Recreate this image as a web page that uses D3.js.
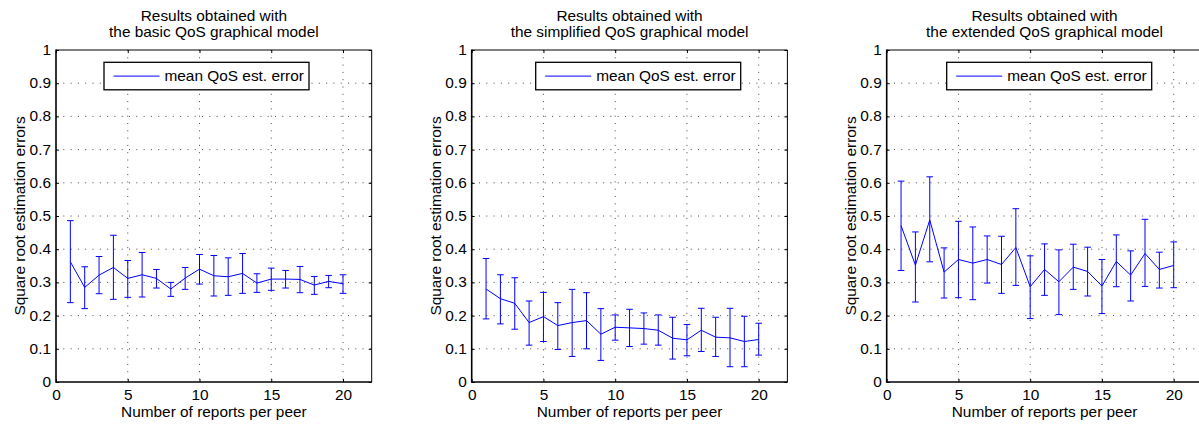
<!DOCTYPE html>
<html>
<head>
<meta charset="utf-8">
<script src="https://cdn.jsdelivr.net/npm/d3@7"></script>
<style>
  html, body { margin: 0; padding: 0; background: #fff; }
  svg { display: block; font-family: "Liberation Sans", Arial, Helvetica, sans-serif; }
</style>
</head>
<body>
<svg id="chart" width="1199" height="429"></svg>
<script>
// ---------------- data ----------------
const reports = [1, 2, 3, 4, 5, 6, 7, 8, 9, 10, 11, 12, 13, 14, 15, 16, 17, 18, 19, 20];

const basicMean  = [0.362, 0.285, 0.322, 0.345, 0.312, 0.323, 0.312, 0.280, 0.313, 0.340, 0.320, 0.317, 0.327, 0.298, 0.310, 0.310, 0.309, 0.292, 0.303, 0.296];
const basicUpper = [0.486, 0.347, 0.378, 0.442, 0.366, 0.390, 0.339, 0.300, 0.345, 0.384, 0.381, 0.374, 0.387, 0.326, 0.343, 0.336, 0.348, 0.318, 0.321, 0.323];
const basicLower = [0.239, 0.221, 0.266, 0.249, 0.255, 0.256, 0.283, 0.258, 0.279, 0.295, 0.259, 0.261, 0.267, 0.270, 0.276, 0.283, 0.269, 0.264, 0.284, 0.267];

const simplifiedMean  = [0.280, 0.251, 0.237, 0.179, 0.197, 0.170, 0.179, 0.185, 0.144, 0.165, 0.163, 0.161, 0.156, 0.132, 0.127, 0.156, 0.135, 0.133, 0.122, 0.128];
const simplifiedUpper = [0.372, 0.323, 0.314, 0.244, 0.270, 0.239, 0.279, 0.269, 0.221, 0.202, 0.219, 0.208, 0.202, 0.195, 0.173, 0.222, 0.195, 0.222, 0.198, 0.177];
const simplifiedLower = [0.190, 0.175, 0.159, 0.111, 0.122, 0.098, 0.077, 0.100, 0.065, 0.126, 0.107, 0.114, 0.111, 0.069, 0.079, 0.092, 0.077, 0.046, 0.046, 0.081];

const extendedMean  = [0.471, 0.352, 0.488, 0.331, 0.369, 0.358, 0.369, 0.354, 0.405, 0.287, 0.339, 0.302, 0.346, 0.333, 0.289, 0.363, 0.322, 0.387, 0.339, 0.351];
const extendedUpper = [0.605, 0.452, 0.618, 0.404, 0.484, 0.467, 0.440, 0.439, 0.522, 0.380, 0.416, 0.398, 0.415, 0.406, 0.369, 0.443, 0.395, 0.490, 0.391, 0.422];
const extendedLower = [0.336, 0.241, 0.362, 0.253, 0.254, 0.248, 0.298, 0.267, 0.291, 0.191, 0.261, 0.203, 0.279, 0.259, 0.206, 0.287, 0.244, 0.288, 0.283, 0.284];

const titles = [
  ["Results obtained with", "the basic QoS graphical model"],
  ["Results obtained with", "the simplified QoS graphical model"],
  ["Results obtained with", "the extended QoS graphical model"]
];
const xTicks = [0, 5, 10, 15, 20];
const yTicks = [0, 0.1, 0.2, 0.3, 0.4, 0.5, 0.6, 0.7, 0.8, 0.9, 1];
const yTickLabels = ["0", "0.1", "0.2", "0.3", "0.4", "0.5", "0.6", "0.7", "0.8", "0.9", "1"];
const xLabel = "Number of reports per peer";
const yLabel = "Square root estimation errors";
const legendLabel = "mean QoS est. error";

// ---------------- layout ----------------
const panelLeft = [56, 471.7, 886.7];
const legendOffset = [48, 64, 60];
const plotW = 315.7, plotTop = 50, plotBottom = 382;
const FS = 14, SX = 1.1;   // font size and horizontal stretch of the text
const blue = "#0000ff";

const panels = [
  { mean: basicMean, upper: basicUpper, lower: basicLower },
  { mean: simplifiedMean, upper: simplifiedUpper, lower: simplifiedLower },
  { mean: extendedMean, upper: extendedUpper, lower: extendedLower }
];

const svg = d3.select("#chart");

function label(g, x, y, txt, anchor, rot) {
  const t = g.append("g").attr("transform", `translate(${x},${y})` + (rot ? ` rotate(${rot})` : ""));
  t.append("text")
    .attr("transform", `scale(${SX},1)`)
    .attr("text-anchor", anchor)
    .attr("font-size", FS)
    .attr("fill", "#000")
    .text(txt);
  return t;
}

panels.forEach((p, i) => {
  const left = panelLeft[i];
  const x = d3.scaleLinear().domain([0, 22]).range([left, left + plotW]);
  const y = d3.scaleLinear().domain([0, 1]).range([plotBottom, plotTop]);
  const g = svg.append("g");
  const cx = left + plotW / 2;

  // background
  g.append("rect").attr("x", left).attr("y", plotTop).attr("width", plotW).attr("height", plotBottom - plotTop).attr("fill", "#fff");

  // grid (dotted)
  g.append("g").selectAll("line").data(xTicks.filter(d => d > 0)).join("line")
    .attr("x1", d => x(d)).attr("x2", d => x(d))
    .attr("y1", plotTop).attr("y2", plotBottom)
    .attr("stroke", "#333").attr("stroke-width", 0.9).attr("stroke-dasharray", "1,6.3");
  g.append("g").selectAll("line").data(yTicks.filter(d => d > 0 && d < 1)).join("line")
    .attr("x1", left).attr("x2", left + plotW)
    .attr("y1", d => y(d)).attr("y2", d => y(d))
    .attr("stroke", "#333").attr("stroke-width", 0.9).attr("stroke-dasharray", "1,6.3");

  // axes
  const ax = g.append("g").attr("transform", `translate(0,${plotBottom})`)
    .call(d3.axisBottom(x).tickValues(xTicks).tickSizeInner(-3).tickSizeOuter(0).tickPadding(8.5));
  const axTop = g.append("g").attr("transform", `translate(0,${plotTop})`)
    .call(d3.axisTop(x).tickValues(xTicks).tickSizeInner(-3).tickSizeOuter(0).tickFormat(""));
  const ay = g.append("g").attr("transform", `translate(${left},0)`)
    .call(d3.axisLeft(y).tickValues(yTicks).tickFormat((d, k) => yTickLabels[k]).tickSizeInner(-3).tickSizeOuter(0).tickPadding(5));
  const ayR = g.append("g").attr("transform", `translate(${left + plotW},0)`)
    .call(d3.axisRight(y).tickValues(yTicks).tickSizeInner(-3).tickSizeOuter(0).tickFormat(""));
  [ax, axTop, ay, ayR].forEach(a => {
    a.select(".domain").remove();
    a.selectAll(".tick line").attr("stroke", "#000");
  });
  ax.selectAll("text").attr("font-size", FS).attr("font-family", null).attr("transform", `scale(${SX},1)`);
  ay.selectAll("text").attr("font-size", FS).attr("font-family", null)
    .attr("x", -5 / SX).attr("transform", `scale(${SX},1)`);

  // frame
  g.append("line").attr("x1", left).attr("x2", left + plotW).attr("y1", plotTop).attr("y2", plotTop).attr("stroke", "#000").attr("stroke-width", 1);
  g.append("line").attr("x1", left + plotW).attr("x2", left + plotW).attr("y1", plotTop).attr("y2", plotBottom).attr("stroke", "#000").attr("stroke-width", 1);
  g.append("line").attr("x1", left).attr("x2", left + plotW).attr("y1", plotBottom).attr("y2", plotBottom).attr("stroke", "#000").attr("stroke-width", 1.6);
  g.append("line").attr("x1", left).attr("x2", left).attr("y1", plotTop - 0.5).attr("y2", plotBottom + 0.8).attr("stroke", "#000").attr("stroke-width", 1.6);

  // error bars
  const eb = g.append("g").attr("stroke", blue).attr("stroke-width", 1).attr("fill", "none");
  reports.forEach((r, k) => {
    const xx = x(r);
    eb.append("line").attr("x1", xx).attr("x2", xx).attr("y1", y(p.upper[k])).attr("y2", y(p.lower[k]));
    eb.append("line").attr("x1", xx - 3.3).attr("x2", xx + 3.3).attr("y1", y(p.upper[k])).attr("y2", y(p.upper[k]));
    eb.append("line").attr("x1", xx - 3.3).attr("x2", xx + 3.3).attr("y1", y(p.lower[k])).attr("y2", y(p.lower[k]));
  });

  // mean line
  g.append("path")
    .datum(reports.map((r, k) => [r, p.mean[k]]))
    .attr("fill", "none").attr("stroke", blue).attr("stroke-width", 1)
    .attr("d", d3.line().x(d => x(d[0])).y(d => y(d[1])));

  // legend
  const lx = left + legendOffset[i], ly = 62.3;
  g.append("rect").attr("x", lx).attr("y", ly).attr("width", 205).attr("height", 27.5)
    .attr("fill", "#fff").attr("stroke", "#000").attr("stroke-width", 1.3);
  g.append("line").attr("x1", lx + 9.5).attr("x2", lx + 55.5).attr("y1", ly + 13.8).attr("y2", ly + 13.8)
    .attr("stroke", blue).attr("stroke-width", 1);
  label(g, lx + 60.5, ly + 18.8, legendLabel, "start");

  // titles and axis labels
  label(g, cx, 21, titles[i][0], "middle");
  label(g, cx, 37, titles[i][1], "middle");
  label(g, cx, 417, xLabel, "middle");
  label(g, left - 31, (plotTop + plotBottom) / 2, yLabel, "middle", -90);
});
</script>
</body>
</html>
